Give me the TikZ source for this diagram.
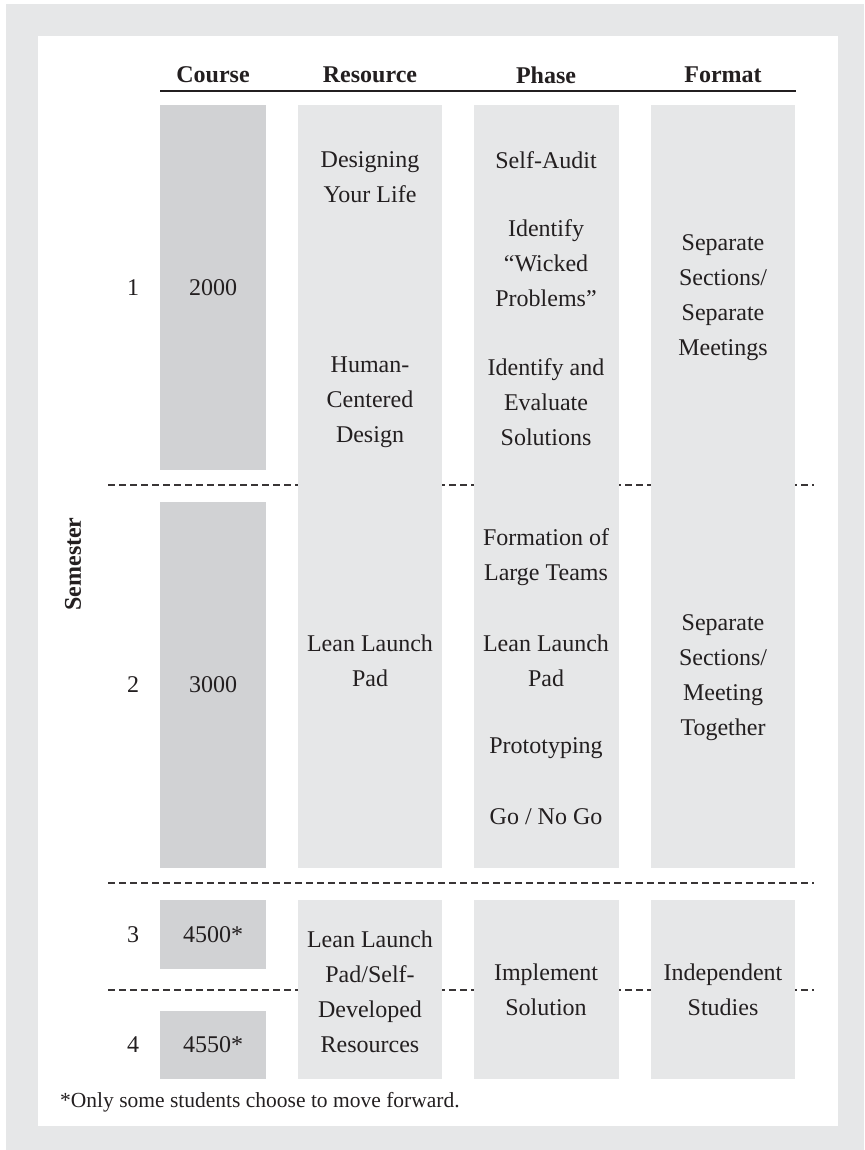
\documentclass[tikz,border=0pt]{standalone}
\usepackage{fontspec}
\setmainfont{Liberation Serif}
\definecolor{panel}{HTML}{E6E7E8}
\definecolor{crsgray}{HTML}{D1D2D4}
\definecolor{ink}{HTML}{231F20}
\begin{document}
\begin{tikzpicture}
		[	x=1pt,y=-1pt,
		crs/.style={rectangle,draw=none,fill=crsgray,minimum width=106pt,inner sep=0pt,text=ink,font=\fontsize{24}{35}\selectfont},
		cell/.style={align=center,inner sep=0pt,text=ink,font=\fontsize{24}{35}\selectfont},
		hdr/.style={inner sep=0pt,text=ink,font=\bfseries\fontsize{24}{28}\selectfont},
		sep/.style={draw=ink!90,line width=2.2pt,dash pattern=on 7pt off 4pt}
		]
		\useasboundingbox (0,0) rectangle (864,1150);
		\fill[panel] (6,4) rectangle (864,1150);
		\fill[white] (38,36) rectangle (838,1126);
		% dashed semester breaks
		\draw[sep] (108,485) -- (814,485);
		\draw[sep] (108,883) -- (814,883);
		\draw[sep] (108,990) -- (814,990);
		% columns
		\fill[panel] (298,105) rectangle (442,868);
		\fill[panel] (474,105) rectangle (619,868);
		\fill[panel] (651,105) rectangle (795,868);
		\fill[panel] (298,900) rectangle (442,1079);
		\fill[panel] (474,900) rectangle (619,1079);
		\fill[panel] (651,900) rectangle (795,1079);
		\node[crs,minimum height=365pt] (c1) at (213,287.5){2000};
		\node[crs,minimum height=366pt] (c2) at (213,685){3000};
		\node[crs,minimum height=69pt] (c3) at (213,934.5){4500*};
		\node[crs,minimum height=68pt] (c4) at (213,1045){4550*};
\node[hdr] (hcourse) at (213,75){Course};
\node[hdr] (hres) at (370,75){Resource};
\node[hdr] (hphase) at (546,75){Phase};
\node[hdr] (hformat) at (723,75){Format};
		\draw[ink,line width=2.5pt] (160,91) -- (796,91);
\node[hdr,rotate=90] (sem) at (73,564){Semester};
\node[cell] (s1) at (133,287.5){1};
\node[cell] (s2) at (133,685){2};
\node[cell] (s3) at (133,934.5){3};
\node[cell] (s4) at (133,1045){4};
		% resource
		\node[cell] (r1) at (370,177){Designing\\Your Life};
		\node[cell] (r2) at (370,402){Human-\\Centered\\Design};
		\node[cell] (r3) at (370,660.5){Lean Launch\\Pad};
		\node[cell] (r4) at (370,992){Lean Launch\\Pad/Self-\\Developed\\Resources};
		% phase
		\node[cell] (p1) at (546,160){Self-Audit};
		\node[cell] (p2) at (546,263){Identify\\“Wicked\\Problems”};
		\node[cell] (p3) at (546,402){Identify and\\Evaluate\\Solutions};
		\node[cell] (p4) at (546,557.5){Formation of\\Large Teams};
		\node[cell] (p5) at (546,660.5){Lean Launch\\Pad};
		\node[cell] (p6) at (546,748){Prototyping};
		\node[cell] (p7) at (546,817){Go / No Go};
		\node[cell] (p8) at (546,990){Implement\\Solution};
		% format
		\node[cell] (f1) at (723,298){Separate\\Sections/\\Separate\\Meetings};
		\node[cell] (f2) at (723,678){Separate\\Sections/\\Meeting\\Together};
		\node[cell] (f3) at (723,990){Independent\\Studies};
\node[cell,anchor=west,font=\fontsize{21.5}{25}\selectfont] (note) at (60,1102){*Only some students choose to move forward.};
	\end{tikzpicture}
\end{document}
